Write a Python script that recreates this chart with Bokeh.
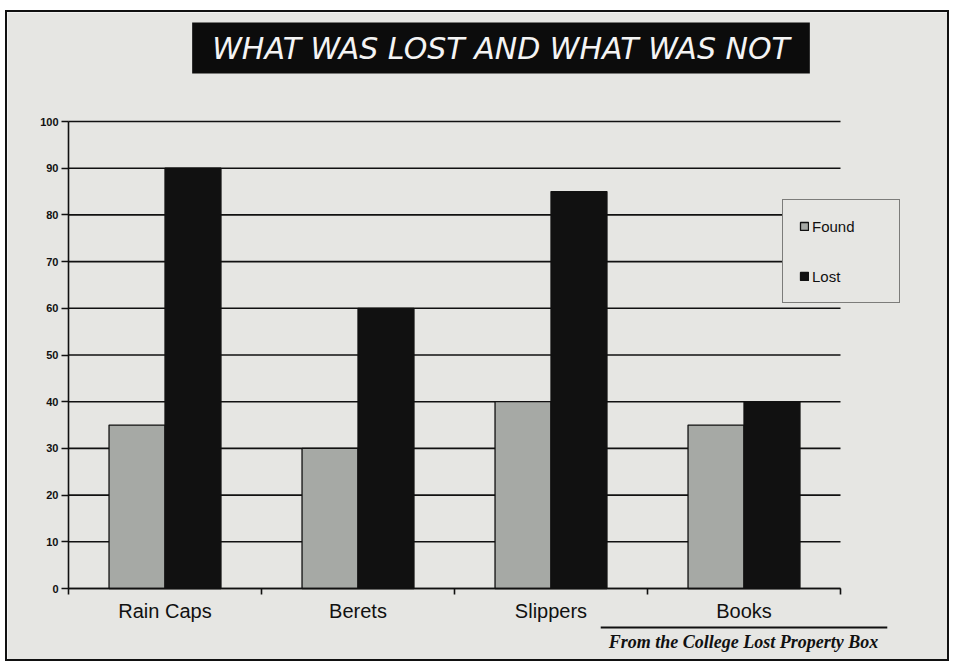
import numpy as np
from bokeh.plotting import figure
from bokeh.models import Range1d, FixedTicker, Label, Legend, LegendItem, LinearAxis
from bokeh.embed import file_html
from bokeh.resources import INLINE

categories = ["Rain Caps", "Berets", "Slippers", "Books"]
found = [35, 30, 40, 35]
lost = [90, 60, 85, 40]
y_ticks = [0, 10, 20, 30, 40, 50, 60, 70, 80, 90, 100]

BG = "#e6e6e3"
FOUND_C = "#a6a9a5"
INK = "#111111"

n = len(categories)
centers = np.arange(n) + 0.5
off = 0.145
bw = 0.29

# pixel geometry of the canvas (frame covers the whole canvas)
PX_X = 193.0   # pixels per category
PX_Y = 4.67    # pixels per unit
ORIGIN_X = 61  # canvas px of x=0
ORIGIN_Y = 576  # canvas px (from top) of y=0
W, H = 944, 651
CX, CY = 7, 12  # page offset of the canvas


def dx(px):
    return (px - CX - ORIGIN_X) / PX_X


def dy(py):
    return (CY + ORIGIN_Y - py) / PX_Y


p = figure(width=W, height=H, output_backend="svg", toolbar_location=None,
           x_axis_location=None, y_axis_location=None,
           x_range=Range1d(-ORIGIN_X / PX_X, (W - ORIGIN_X) / PX_X),
           y_range=Range1d(-(H - ORIGIN_Y) / PX_Y, ORIGIN_Y / PX_Y),
           min_border=0, min_border_left=0, min_border_right=0,
           min_border_top=0, min_border_bottom=0,
           background_fill_color=BG, border_fill_color=BG)
p.styles = {"border": "2px solid #111111", "margin-left": "5px", "margin-top": "10px"}
p.outline_line_color = None
p.grid.visible = False

# horizontal gridlines across the category span
p.segment(x0=0, x1=n, y0=y_ticks, y1=y_ticks, line_color=INK, line_width=1.6)

r1 = p.vbar(x=centers - off, top=found, width=bw, bottom=0, fill_color=FOUND_C,
            line_color=INK, line_width=1.3)
r2 = p.vbar(x=centers + off, top=lost, width=bw, bottom=0, fill_color=INK,
            line_color=INK, line_width=1.3)

yaxis = LinearAxis(fixed_location=0, bounds=(0, 100), ticker=FixedTicker(ticks=y_ticks))
yaxis.axis_line_color = INK
yaxis.axis_line_width = 1.6
yaxis.major_tick_out = 7
yaxis.major_tick_in = 0
yaxis.major_tick_line_width = 1.6
yaxis.major_tick_line_color = INK
yaxis.minor_tick_line_color = None
yaxis.major_label_text_font = "Liberation Sans"
yaxis.major_label_text_font_style = "bold"
yaxis.major_label_text_font_size = "11px"
yaxis.major_label_text_color = INK
yaxis.major_label_standoff = 3
p.add_layout(yaxis, "left")

xaxis = LinearAxis(fixed_location=0, bounds=(0, n),
                   ticker=FixedTicker(ticks=list(centers), minor_ticks=list(range(n + 1))))
xaxis.major_label_overrides = {float(c): lab for c, lab in zip(centers, categories)}
xaxis.axis_line_color = INK
xaxis.axis_line_width = 1.6
xaxis.major_tick_out = 0
xaxis.major_tick_in = 0
xaxis.minor_tick_out = 6
xaxis.minor_tick_in = 0
xaxis.minor_tick_line_color = INK
xaxis.minor_tick_line_width = 1.6
xaxis.major_label_text_font = "Liberation Sans"
xaxis.major_label_text_font_size = "20px"
xaxis.major_label_text_color = INK
xaxis.major_label_standoff = 5
p.add_layout(xaxis, "below")

legend = Legend(items=[LegendItem(label="Found", renderers=[r1]),
                       LegendItem(label="Lost", renderers=[r2])],
                location=(782 - CX, CY + H - 303), orientation="vertical")
legend.border_line_color = INK
legend.border_line_width = 1.5
legend.background_fill_color = BG
legend.background_fill_alpha = 1
legend.label_text_font = "Liberation Sans"
legend.label_text_font_size = "15px"
legend.label_text_color = INK
legend.glyph_width = 10
legend.glyph_height = 10
legend.label_height = 20
legend.label_standoff = 3
legend.spacing = 30
legend.padding = 16
legend.label_width = 71
legend.margin = 0
p.add_layout(legend, "center")

title = Label(x=dx(500.5), y=dy(47.5), text="WHAT WAS LOST AND WHAT WAS NOT",
              text_align="center", text_baseline="middle",
              text_font="DejaVu Sans", text_font_style="italic", text_font_size="30px",
              text_color="#f4f4f4", background_fill_color="#0c0c0c",
              padding=(20, 8))
p.add_layout(title)

rule = Label(x=dx(743.5), y=dy(627), text=" ",
             text_align="center", text_baseline="middle",
             text_font_size="2px", background_fill_color=INK, padding=(143, 0))
p.add_layout(rule)

note = Label(x=dx(743), y=dy(641), text="From the College Lost Property Box",
             text_align="center", text_baseline="middle",
             text_font="Liberation Serif", text_font_style="bold italic", text_font_size="18px",
             text_color=INK)
p.add_layout(note)

open("out.html", "w").write(file_html(p, INLINE))
